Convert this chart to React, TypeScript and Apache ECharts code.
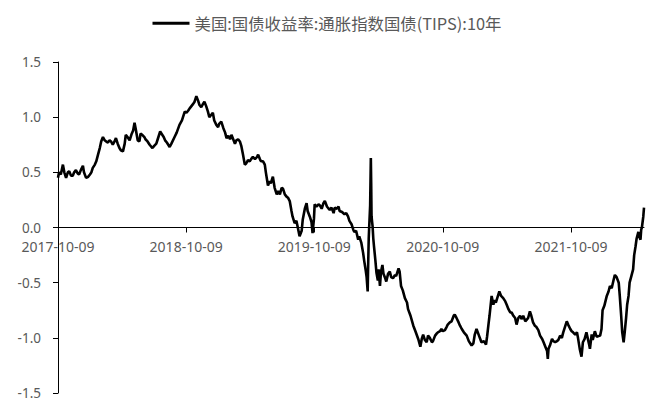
import React, { useEffect, useRef } from "react";
import * as echarts from "echarts";

const SERIES_NAME = "美国:国债收益率:通胀指数国债(TIPS):10年";
const TICK_DATES = ["2017-10-09", "2018-10-09", "2019-10-09", "2020-10-09", "2021-10-09"];
const Y_MIN = -1.5;
const Y_MAX = 1.5;
const Y_STEP = 0.5;

const TIPS_2017: [string, number][] = [
  ["2017-10-09", 0.45], ["2017-10-12", 0.5], ["2017-10-17", 0.48], ["2017-10-23", 0.57], ["2017-10-27", 0.5],
  ["2017-11-01", 0.45], ["2017-11-06", 0.5], ["2017-11-10", 0.51], ["2017-11-15", 0.47], ["2017-11-20", 0.47],
  ["2017-11-24", 0.5], ["2017-11-29", 0.52], ["2017-12-04", 0.49], ["2017-12-08", 0.48], ["2017-12-13", 0.52],
  ["2017-12-19", 0.56], ["2017-12-22", 0.5], ["2017-12-28", 0.45],
];

const TIPS_2018: [string, number][] = [
  ["2018-01-03", 0.46], ["2018-01-08", 0.48], ["2018-01-12", 0.5], ["2018-01-16", 0.54], ["2018-01-22", 0.57],
  ["2018-01-26", 0.6], ["2018-01-31", 0.66], ["2018-02-05", 0.72], ["2018-02-09", 0.78], ["2018-02-14", 0.82],
  ["2018-02-19", 0.79], ["2018-02-23", 0.78], ["2018-02-28", 0.77], ["2018-03-05", 0.79], ["2018-03-09", 0.78],
  ["2018-03-14", 0.75], ["2018-03-19", 0.78], ["2018-03-23", 0.81], ["2018-03-28", 0.76], ["2018-04-02", 0.72],
  ["2018-04-06", 0.7], ["2018-04-12", 0.69], ["2018-04-17", 0.76], ["2018-04-20", 0.84], ["2018-04-25", 0.82],
  ["2018-05-01", 0.79], ["2018-05-07", 0.85], ["2018-05-11", 0.88], ["2018-05-15", 0.95], ["2018-05-18", 0.9],
  ["2018-05-24", 0.79], ["2018-05-29", 0.78], ["2018-06-01", 0.85], ["2018-06-06", 0.84], ["2018-06-12", 0.82],
  ["2018-06-15", 0.8], ["2018-06-21", 0.78], ["2018-06-27", 0.75], ["2018-07-05", 0.72], ["2018-07-10", 0.74],
  ["2018-07-16", 0.76], ["2018-07-20", 0.8], ["2018-07-27", 0.87], ["2018-07-31", 0.85], ["2018-08-06", 0.82],
  ["2018-08-10", 0.79], ["2018-08-15", 0.77], ["2018-08-23", 0.73], ["2018-08-28", 0.76], ["2018-09-06", 0.82],
  ["2018-09-12", 0.86], ["2018-09-20", 0.93], ["2018-09-27", 0.97], ["2018-10-05", 1.05], ["2018-10-10", 1.04],
  ["2018-10-15", 1.06], ["2018-10-19", 1.08], ["2018-10-24", 1.1], ["2018-10-29", 1.12], ["2018-11-02", 1.14],
  ["2018-11-07", 1.19], ["2018-11-12", 1.15], ["2018-11-16", 1.11], ["2018-11-21", 1.09], ["2018-11-26", 1.12],
  ["2018-11-30", 1.14], ["2018-12-05", 1.1], ["2018-12-10", 1.05], ["2018-12-14", 1.0], ["2018-12-19", 1.02],
  ["2018-12-24", 1.04], ["2018-12-28", 0.97],
];

const TIPS_2019: [string, number][] = [
  ["2019-01-03", 0.93], ["2019-01-08", 0.91], ["2019-01-11", 0.94], ["2019-01-17", 0.96], ["2019-01-23", 0.9],
  ["2019-01-28", 0.86], ["2019-02-01", 0.81], ["2019-02-06", 0.83], ["2019-02-11", 0.8], ["2019-02-15", 0.84],
  ["2019-02-20", 0.8], ["2019-02-25", 0.76], ["2019-03-01", 0.79], ["2019-03-06", 0.8], ["2019-03-11", 0.78],
  ["2019-03-15", 0.74], ["2019-03-20", 0.66], ["2019-03-25", 0.57], ["2019-03-29", 0.58], ["2019-04-03", 0.61],
  ["2019-04-08", 0.6], ["2019-04-12", 0.62], ["2019-04-17", 0.64], ["2019-04-23", 0.62], ["2019-04-29", 0.64],
  ["2019-05-02", 0.66], ["2019-05-07", 0.62], ["2019-05-10", 0.6], ["2019-05-16", 0.6], ["2019-05-21", 0.57],
  ["2019-05-24", 0.5], ["2019-05-30", 0.38], ["2019-06-04", 0.42], ["2019-06-07", 0.4], ["2019-06-13", 0.46],
  ["2019-06-18", 0.36], ["2019-06-24", 0.3], ["2019-06-28", 0.33], ["2019-07-03", 0.3], ["2019-07-08", 0.36],
  ["2019-07-12", 0.35], ["2019-07-17", 0.3], ["2019-07-22", 0.28], ["2019-07-26", 0.27], ["2019-07-31", 0.24],
  ["2019-08-05", 0.15], ["2019-08-08", 0.1], ["2019-08-14", 0.04], ["2019-08-19", 0.06], ["2019-08-23", 0.0],
  ["2019-08-28", -0.08], ["2019-09-03", -0.03], ["2019-09-06", 0.07], ["2019-09-12", 0.17], ["2019-09-17", 0.22],
  ["2019-09-20", 0.15], ["2019-09-26", 0.1], ["2019-10-01", 0.05], ["2019-10-04", -0.05], ["2019-10-08", 0.08],
  ["2019-10-10", 0.21], ["2019-10-15", 0.19], ["2019-10-21", 0.21], ["2019-10-25", 0.2], ["2019-10-30", 0.17],
  ["2019-11-04", 0.22], ["2019-11-08", 0.24], ["2019-11-14", 0.19], ["2019-11-19", 0.17], ["2019-11-22", 0.16],
  ["2019-11-27", 0.18], ["2019-12-03", 0.13], ["2019-12-06", 0.18], ["2019-12-12", 0.17], ["2019-12-17", 0.19],
  ["2019-12-20", 0.15], ["2019-12-27", 0.14],
];

const TIPS_2020: [string, number][] = [
  ["2020-01-03", 0.12], ["2020-01-08", 0.13], ["2020-01-13", 0.1], ["2020-01-17", 0.06], ["2020-01-23", 0.03],
  ["2020-01-28", -0.02], ["2020-01-31", -0.04], ["2020-02-05", -0.03], ["2020-02-11", -0.11], ["2020-02-14", -0.08],
  ["2020-02-20", -0.14], ["2020-02-25", -0.23], ["2020-02-28", -0.3], ["2020-03-03", -0.38], ["2020-03-06", -0.45],
  ["2020-03-09", -0.58], ["2020-03-10", -0.4], ["2020-03-12", -0.1], ["2020-03-13", -0.02], ["2020-03-16", 0.2],
  ["2020-03-18", 0.63], ["2020-03-19", 0.4], ["2020-03-20", 0.1], ["2020-03-23", 0.01], ["2020-03-25", -0.1],
  ["2020-03-27", -0.17], ["2020-03-31", -0.3], ["2020-04-03", -0.41], ["2020-04-07", -0.48], ["2020-04-09", -0.38],
  ["2020-04-13", -0.53], ["2020-04-16", -0.4], ["2020-04-20", -0.34], ["2020-04-23", -0.42], ["2020-04-28", -0.46],
  ["2020-05-01", -0.49], ["2020-05-06", -0.42], ["2020-05-11", -0.4], ["2020-05-15", -0.45], ["2020-05-20", -0.46],
  ["2020-05-26", -0.43], ["2020-05-29", -0.44], ["2020-06-05", -0.37], ["2020-06-08", -0.4], ["2020-06-12", -0.53],
  ["2020-06-17", -0.57], ["2020-06-23", -0.64], ["2020-06-29", -0.68], ["2020-07-02", -0.74], ["2020-07-09", -0.8],
  ["2020-07-17", -0.89], ["2020-07-23", -0.94], ["2020-07-31", -1.01], ["2020-08-06", -1.08], ["2020-08-10", -1.01],
  ["2020-08-14", -0.97], ["2020-08-19", -1.02], ["2020-08-24", -1.04], ["2020-08-28", -0.98], ["2020-09-02", -1.0],
  ["2020-09-08", -1.04], ["2020-09-11", -1.03], ["2020-09-17", -0.98], ["2020-09-22", -0.96], ["2020-09-25", -0.95],
  ["2020-10-01", -0.94], ["2020-10-05", -0.92], ["2020-10-09", -0.94], ["2020-10-15", -0.93], ["2020-10-20", -0.9],
  ["2020-10-23", -0.88], ["2020-10-29", -0.86], ["2020-11-03", -0.85], ["2020-11-09", -0.8], ["2020-11-12", -0.79],
  ["2020-11-17", -0.82], ["2020-11-23", -0.86], ["2020-11-27", -0.89], ["2020-12-02", -0.92], ["2020-12-08", -0.95],
  ["2020-12-16", -0.98], ["2020-12-22", -1.03], ["2020-12-30", -1.07],
];

const TIPS_2021: [string, number][] = [
  ["2021-01-04", -1.05], ["2021-01-08", -0.97], ["2021-01-13", -0.92], ["2021-01-20", -0.98], ["2021-01-27", -1.04],
  ["2021-02-03", -1.03], ["2021-02-09", -1.06], ["2021-02-12", -0.99], ["2021-02-16", -0.88], ["2021-02-19", -0.8],
  ["2021-02-25", -0.62], ["2021-03-02", -0.7], ["2021-03-05", -0.66], ["2021-03-09", -0.68], ["2021-03-15", -0.62],
  ["2021-03-19", -0.58], ["2021-03-24", -0.62], ["2021-03-30", -0.64], ["2021-04-05", -0.67], ["2021-04-09", -0.7],
  ["2021-04-14", -0.74], ["2021-04-19", -0.77], ["2021-04-23", -0.77], ["2021-04-28", -0.8], ["2021-05-03", -0.82],
  ["2021-05-07", -0.88], ["2021-05-12", -0.82], ["2021-05-17", -0.8], ["2021-05-21", -0.83], ["2021-05-26", -0.8],
  ["2021-06-01", -0.85], ["2021-06-04", -0.84], ["2021-06-09", -0.82], ["2021-06-14", -0.76], ["2021-06-18", -0.8],
  ["2021-06-23", -0.86], ["2021-06-28", -0.89], ["2021-07-02", -0.9], ["2021-07-08", -0.93], ["2021-07-13", -0.98],
  ["2021-07-19", -1.01], ["2021-07-23", -1.04], ["2021-07-28", -1.08], ["2021-08-02", -1.12], ["2021-08-04", -1.19],
  ["2021-08-06", -1.1], ["2021-08-10", -1.07], ["2021-08-16", -1.01], ["2021-08-20", -1.03], ["2021-08-25", -1.04],
  ["2021-08-30", -1.03], ["2021-09-03", -1.02], ["2021-09-08", -0.98], ["2021-09-13", -1.0], ["2021-09-17", -0.95],
  ["2021-09-22", -0.9], ["2021-09-27", -0.85], ["2021-10-01", -0.88], ["2021-10-07", -0.92], ["2021-10-11", -0.94],
  ["2021-10-15", -0.95], ["2021-10-21", -0.97], ["2021-10-26", -0.95], ["2021-10-29", -1.0], ["2021-11-03", -1.1],
  ["2021-11-08", -1.17], ["2021-11-12", -1.04], ["2021-11-17", -1.01], ["2021-11-22", -0.95], ["2021-11-29", -1.05],
  ["2021-12-02", -1.1], ["2021-12-07", -0.97], ["2021-12-10", -1.02], ["2021-12-16", -0.94], ["2021-12-21", -0.99],
  ["2021-12-31", -0.98],
];

const TIPS_2022: [string, number][] = [
  ["2022-01-04", -0.92], ["2022-01-07", -0.75], ["2022-01-12", -0.71], ["2022-01-19", -0.62], ["2022-01-24", -0.58],
  ["2022-01-28", -0.53], ["2022-02-02", -0.55], ["2022-02-07", -0.48], ["2022-02-11", -0.43], ["2022-02-16", -0.45],
  ["2022-02-22", -0.5], ["2022-02-25", -0.62], ["2022-03-01", -0.8], ["2022-03-04", -0.95], ["2022-03-08", -1.04],
  ["2022-03-11", -0.95], ["2022-03-15", -0.82], ["2022-03-18", -0.7], ["2022-03-22", -0.62], ["2022-03-25", -0.5],
  ["2022-03-30", -0.44], ["2022-04-04", -0.38], ["2022-04-07", -0.25], ["2022-04-11", -0.17], ["2022-04-14", -0.1],
  ["2022-04-19", -0.04], ["2022-04-21", -0.08], ["2022-04-25", -0.11], ["2022-04-27", -0.02], ["2022-04-29", 0.0],
  ["2022-05-03", 0.1], ["2022-05-05", 0.18],
];

const ALL_POINTS = [...TIPS_2017, ...TIPS_2018, ...TIPS_2019, ...TIPS_2020, ...TIPS_2021, ...TIPS_2022];

const toUTC = (s: string) => Date.UTC(+s.slice(0, 4), +s.slice(5, 7) - 1, +s.slice(8, 10));
const BASE = toUTC(TICK_DATES[0]);
const dayOf = (s: string) => Math.round((toUTC(s) - BASE) / 86400000);

const TEXT_COLOR = "#595959";
const FONT = "'Noto Sans', 'Noto Sans CJK SC', sans-serif";

const W = 654;
const H = 408;
const GRID_TOP = 62;
const GRID_BOTTOM = 15;

export default function App() {
  const ref = useRef<HTMLDivElement>(null);

  useEffect(() => {
    if (!ref.current) return;
    const chart = echarts.init(ref.current, undefined, { renderer: "svg" });
    const tickDays = TICK_DATES.map(dayOf);
    const seriesData = ALL_POINTS.map(([d, v]) => [dayOf(d), v]);
    const lastDay = dayOf(ALL_POINTS[ALL_POINTS.length - 1][0]);
    const gridH = H - GRID_TOP - GRID_BOTTOM;
    // distance from grid bottom up to the y=0 line
    const zeroOffset = (gridH * (0 - Y_MIN)) / (Y_MAX - Y_MIN);

    chart.setOption({
      animation: false,
      backgroundColor: "#ffffff",
      textStyle: { fontFamily: FONT },
      legend: {
        show: true,
        top: 10,
        left: "center",
        icon: "rect",
        itemWidth: 37,
        itemHeight: 3,
        itemGap: 10,
        textStyle: { color: TEXT_COLOR, fontSize: 16.4, fontFamily: "'Noto Sans CJK SC', sans-serif" },
        data: [SERIES_NAME],
      },
      grid: { left: 58, right: 10, top: GRID_TOP, bottom: GRID_BOTTOM, containLabel: false, outerBoundsMode: "none" },
      xAxis: {
        type: "value",
        min: 0,
        max: lastDay,
        position: "bottom",
        offset: -zeroOffset,
        axisLine: { show: true, onZero: false, lineStyle: { color: "#000000", width: 1 } },
        axisTick: { show: true, length: 5, inside: false, customValues: tickDays, lineStyle: { color: "#000000" } },
        axisLabel: {
          show: true,
          customValues: tickDays,
          margin: 12,
          color: TEXT_COLOR,
          fontSize: 14,
          lineHeight: 14,
          fontFamily: FONT,
          formatter: (v: number) => {
            const i = tickDays.findIndex((t) => Math.abs(t - v) < 0.5);
            return i >= 0 ? TICK_DATES[i] : "";
          },
        },
        splitLine: { show: false },
      },
      yAxis: {
        type: "value",
        min: Y_MIN,
        max: Y_MAX,
        interval: Y_STEP,
        axisLine: { show: true, lineStyle: { color: "#000000", width: 1 } },
        axisTick: { show: true, length: 5, inside: false, lineStyle: { color: "#000000" } },
        axisLabel: {
          margin: 17,
          color: TEXT_COLOR,
          fontSize: 13.5,
          lineHeight: 13,
          fontFamily: FONT,
          formatter: (v: number) => v.toFixed(1),
        },
        splitLine: { show: false },
      },
      series: [
        {
          name: SERIES_NAME,
          type: "line",
          data: seriesData,
          showSymbol: false,
          symbol: "none",
          silent: true,
          itemStyle: { color: "#000000" },
          lineStyle: { color: "#000000", width: 2.6 },
        },
      ],
    });

    return () => chart.dispose();
  }, []);

  return (
    <div
      ref={ref}
      style={{ position: "fixed", left: 0, top: 0, width: W, height: H, background: "#fff" }}
    />
  );
}
